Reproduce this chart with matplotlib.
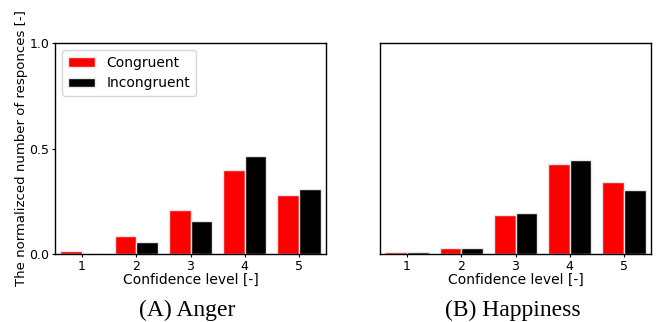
import numpy as np
import matplotlib
matplotlib.use("Agg")
import matplotlib.pyplot as plt

levels = [1, 2, 3, 4, 5]

anger_congruent = [0.013, 0.084, 0.208, 0.396, 0.281]
anger_incongruent = [0.0, 0.055, 0.158, 0.466, 0.307]

happy_congruent = [0.008, 0.029, 0.184, 0.425, 0.341]
happy_incongruent = [0.008, 0.030, 0.195, 0.447, 0.304]

captions = ["(A) Anger", "(B) Happiness"]
xlabel = "Confidence level [-]"
ylabel = "The normalizced number of responces [-]"

fig = plt.figure(figsize=(6.58, 3.22), dpi=100)

W, H = 658, 322
ax1 = fig.add_axes([55 / W, 1 - 254 / H, 271 / W, 211 / H])
ax2 = fig.add_axes([380 / W, 1 - 254 / H, 271 / W, 211 / H])

x = np.array(levels)
w = 0.4
data = [(anger_congruent, anger_incongruent), (happy_congruent, happy_incongruent)]

for ax, (cong, incong) in zip([ax1, ax2], data):
    ax.bar(x, cong, width=-w, align='edge', color='red', edgecolor='#e8e8e8',
           linewidth=1, label="Congruent")
    ax.bar(x, incong, width=w, align='edge', color='black', edgecolor='#e8e8e8',
           linewidth=1, label="Incongruent")
    ax.set_xlim(0.5, 5.5)
    ax.set_ylim(0, 1.0)
    ax.set_xticks(levels)
    ax.tick_params(labelsize=9, length=2.5, pad=1.5)
    ax.set_xlabel(xlabel, fontsize=10, labelpad=0)
    for s in ax.spines.values():
        s.set_linewidth(1)

ax1.set_yticks([0.0, 0.5, 1.0])
ax1.set_ylabel(ylabel, fontsize=9.5, labelpad=1)
ax1.legend(loc='upper left', fontsize=10)

ax2.set_yticks([])

fig.text(187 / W, 1 - 316 / H, captions[0], ha='center', va='baseline',
         fontsize=17, family='Liberation Serif')
fig.text(513 / W, 1 - 316 / H, captions[1], ha='center', va='baseline',
         fontsize=17, family='Liberation Serif')

fig.savefig("out.png", dpi=100)
